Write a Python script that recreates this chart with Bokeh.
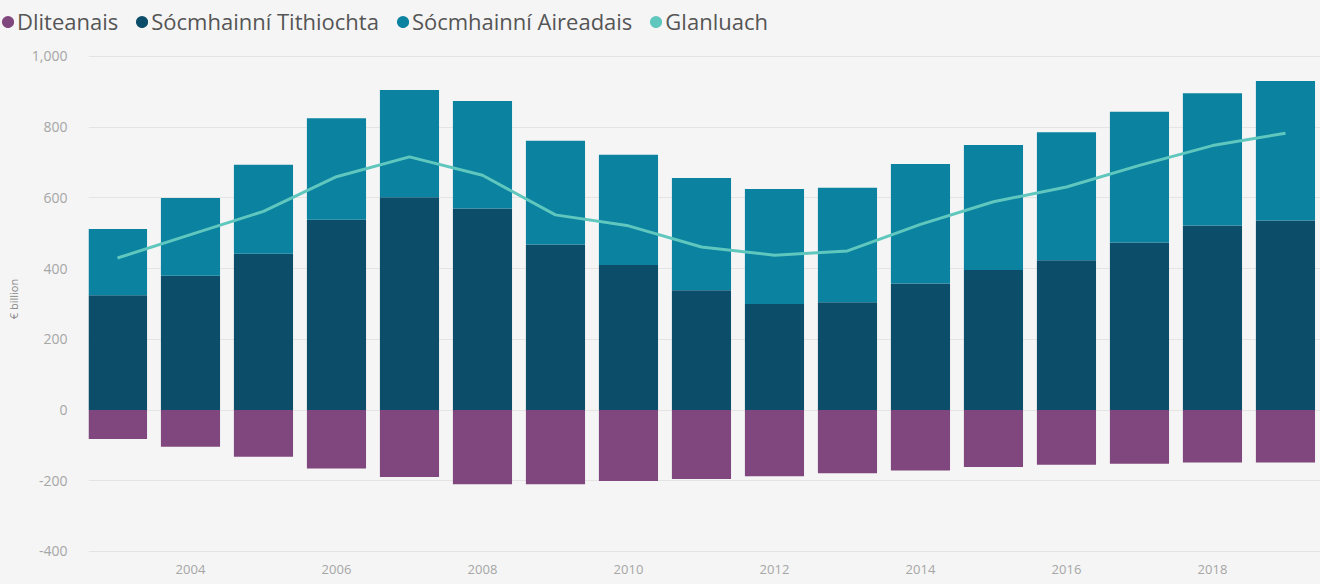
from bokeh.plotting import figure
from bokeh.layouts import column, row
from bokeh.models import (ColumnDataSource, Range1d, FixedTicker, NumeralTickFormatter,
                          Legend, LegendItem)
from bokeh.embed import file_html
from bokeh.resources import INLINE

# ---- data ----
years = [2003, 2004, 2005, 2006, 2007, 2008, 2009, 2010, 2011,
         2012, 2013, 2014, 2015, 2016, 2017, 2018, 2019]
housing = [325, 380, 442, 538, 602, 570, 468, 410, 339,
           300, 305, 358, 396, 424, 474, 522, 536]
financial = [187, 220, 252, 287, 303, 304, 294, 312, 317,
             325, 324, 338, 354, 362, 370, 374, 395]
liabilities = [-82, -104, -132, -165, -189, -210, -210, -201, -195,
               -187, -179, -171, -161, -155, -152, -148, -148]
net_worth = [430, 496, 562, 660, 716, 664, 552, 521, 461,
             438, 450, 525, 589, 631, 692, 748, 783]
y_ticks = [-400, -200, 0, 200, 400, 600, 800, 1000]
x_ticks = [2004, 2006, 2008, 2010, 2012, 2014, 2016, 2018]

names = ["Dliteanais", "Sócmhainní Tithiochta", "Sócmhainní Aireadais", "Glanluach"]
colors = ["#7f477d", "#0c4d69", "#0a82a0", "#5fc7bd"]

BG = "#f5f5f5"
FONT = "Open Sans"

# ---- legend strip ----
lg = figure(width=1320, height=44, output_backend="svg", toolbar_location=None,
            x_range=Range1d(0, 1), y_range=Range1d(0, 1),
            x_axis_location=None, y_axis_location=None,
            min_border_left=0, min_border_right=0, min_border_top=0, min_border_bottom=0,
            background_fill_color=BG, border_fill_color=BG, outline_line_color=None)
lg.grid.visible = False
items = []
for name, c in zip(names, colors):
    r = lg.scatter(x=[-10], y=[-10], marker="circle", size=6, fill_color=c,
                   line_color=c, line_width=7)
    items.append(LegendItem(label=name, renderers=[r]))
legend = Legend(items=items, orientation="horizontal", location=(1, 8),
                glyph_width=13, glyph_height=13, label_standoff=3, spacing=17,
                padding=0, margin=0, border_line_color=None,
                background_fill_alpha=0, label_text_font=FONT,
                label_text_font_size="22px", label_text_color="#555555")
lg.add_layout(legend, "center")

# ---- main chart ----
src = ColumnDataSource(dict(year=years, housing=housing, financial=financial,
                            liabilities=liabilities, net=net_worth))

p = figure(width=1320, height=540, output_backend="svg", toolbar_location=None,
           x_range=Range1d(2002.603, 2019.48), y_range=Range1d(-405.7, 1033.9),
           min_border_left=88, min_border_right=0, min_border_top=0, min_border_bottom=31,
           background_fill_color=BG, border_fill_color=BG, outline_line_color=None)

p.vbar_stack(["housing", "financial"], x="year", width=0.81, source=src,
             color=[colors[1], colors[2]], line_color=None)
p.vbar(x="year", bottom=0, top="liabilities", width=0.81, source=src,
       fill_color=colors[0], line_color=None)
p.line(x="year", y="net", source=src, line_color=colors[3], line_width=3)

p.yaxis.ticker = FixedTicker(ticks=y_ticks)
p.yaxis.formatter = NumeralTickFormatter(format="0,0")
p.yaxis.axis_label = "€ billion"
p.yaxis.axis_label_text_font = FONT
p.yaxis.axis_label_text_font_size = "11px"
p.yaxis.axis_label_text_font_style = "normal"
p.yaxis.axis_label_text_color = "#8a8a8a"
p.yaxis.axis_label_standoff = 8
p.yaxis.major_label_standoff = 15
p.yaxis.major_label_text_font_size = "14px"

p.xaxis.ticker = FixedTicker(ticks=x_ticks)
p.xaxis.major_label_standoff = 5
p.xaxis.major_label_text_font_size = "13px"

for ax in (p.xaxis, p.yaxis):
    ax.axis_line_color = None
    ax.major_tick_line_color = None
    ax.minor_tick_line_color = None
    ax.major_label_text_font = FONT
    ax.major_label_text_color = "#a6a6a6"

p.xgrid.grid_line_color = None
p.ygrid.grid_line_color = "#e4e4e4"
p.ygrid.grid_line_width = 1

layout = column(row(lg, spacing=0), p, spacing=0, styles={"background-color": BG})
open("out.html", "w").write(file_html(layout, INLINE))
